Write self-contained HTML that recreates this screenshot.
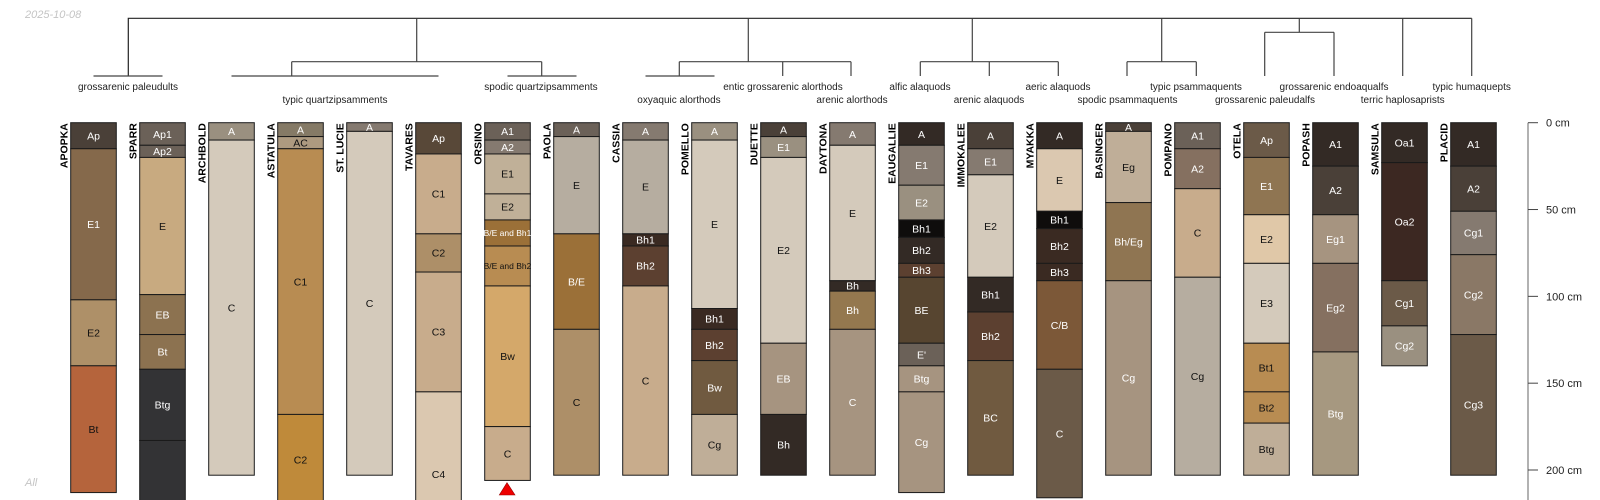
<!DOCTYPE html>
<html><head><meta charset="utf-8">
<style>
html,body{margin:0;padding:0;background:#fff;width:1600px;height:500px;overflow:hidden;}
svg{display:block;font-family:"Liberation Sans",sans-serif;overflow:hidden;}
</style></head>
<body>
<svg id="chart" width="1600" height="500" viewBox="0 0 1600 500" xmlns="http://www.w3.org/2000/svg">
<text x="25" y="18" font-size="11" font-style="italic" fill="#c4c4c4">2025-10-08</text>
<text x="25" y="486" font-size="11" font-style="italic" fill="#c4c4c4">All</text>
<g id="dendro" stroke="#444" stroke-width="1.2" fill="none">
<polyline points="128.3,76 128.3,18.3 1471.7,18.3" stroke="#222"/>
<line x1="93.5" y1="76" x2="162.5" y2="76"/>
<line x1="416.7" y1="18.3" x2="416.7" y2="61.7"/>
<line x1="291.7" y1="61.7" x2="541.7" y2="61.7"/>
<line x1="291.7" y1="61.7" x2="291.7" y2="76"/>
<line x1="231.5" y1="76" x2="438.5" y2="76"/>
<line x1="541.7" y1="61.7" x2="541.7" y2="76"/>
<line x1="507.5" y1="76" x2="576.5" y2="76"/>
<line x1="748.3" y1="18.3" x2="748.3" y2="61.7"/>
<line x1="679.3" y1="61.7" x2="851" y2="61.7"/>
<line x1="679.3" y1="61.7" x2="679.3" y2="76"/>
<line x1="645.5" y1="76" x2="714.5" y2="76"/>
<line x1="782.7" y1="61.7" x2="782.7" y2="76"/>
<line x1="851" y1="61.7" x2="851" y2="76"/>
<line x1="972.3" y1="18.3" x2="972.3" y2="61.7"/>
<line x1="920.3" y1="61.7" x2="1058.3" y2="61.7"/>
<line x1="920.3" y1="61.7" x2="920.3" y2="76"/>
<line x1="989.3" y1="61.7" x2="989.3" y2="76"/>
<line x1="1058.3" y1="61.7" x2="1058.3" y2="76"/>
<line x1="1161.7" y1="18.3" x2="1161.7" y2="61.7"/>
<line x1="1127" y1="61.7" x2="1196.3" y2="61.7"/>
<line x1="1127" y1="61.7" x2="1127" y2="76"/>
<line x1="1196.3" y1="61.7" x2="1196.3" y2="76"/>
<line x1="1299.3" y1="18.3" x2="1299.3" y2="32.3"/>
<line x1="1264.7" y1="32.3" x2="1334" y2="32.3"/>
<line x1="1264.7" y1="32.3" x2="1264.7" y2="76"/>
<line x1="1334" y1="32.3" x2="1334" y2="76"/>
<line x1="1402.7" y1="18.3" x2="1402.7" y2="76"/>
<line x1="1471.7" y1="18.3" x2="1471.7" y2="76"/>
</g>
<g id="taxa" font-size="10" fill="#222" text-anchor="middle">
<text x="128" y="90">grossarenic paleudults</text>
<text x="335" y="103">typic quartzipsamments</text>
<text x="541" y="90">spodic quartzipsamments</text>
<text x="679" y="103">oxyaquic alorthods</text>
<text x="783" y="90">entic grossarenic alorthods</text>
<text x="852" y="103">arenic alorthods</text>
<text x="920" y="90">alfic alaquods</text>
<text x="989" y="103">arenic alaquods</text>
<text x="1058" y="90">aeric alaquods</text>
<text x="1127.5" y="103">spodic psammaquents</text>
<text x="1196" y="90">typic psammaquents</text>
<text x="1265" y="103">grossarenic paleudalfs</text>
<text x="1334" y="90">grossarenic endoaqualfs</text>
<text x="1402.7" y="103">terric haplosaprists</text>
<text x="1471.7" y="90">typic humaquepts</text>
</g>
<g id="profiles"></g>
<g id="axis"></g>
<polygon points="507,482.7 499.3,495 515,495" fill="#ee0000" stroke="#900" stroke-width="0.6"/>
</svg>
<script>
const profileNames = ["APOPKA","SPARR","ARCHBOLD","ASTATULA","ST. LUCIE","TAVARES","ORSINO","PAOLA","CASSIA","POMELLO","DUETTE","DAYTONA","EAUGALLIE","IMMOKALEE","MYAKKA","BASINGER","POMPANO","OTELA","POPASH","SAMSULA","PLACID"];
const horizonNames = [
["Ap","E1","E2","Bt"],
["Ap1","Ap2","E","EB","Bt","Btg","BC"],
["A","C"],
["A","AC","C1","C2"],
["A","C"],
["Ap","C1","C2","C3","C4"],
["A1","A2","E1","E2","B/E and Bh1","B/E and Bh2","Bw","C"],
["A","E","B/E","C"],
["A","E","Bh1","Bh2","C"],
["A","E","Bh1","Bh2","Bw","Cg"],
["A","E1","E2","EB","Bh"],
["A","E","Bh","Bh","C"],
["A","E1","E2","Bh1","Bh2","Bh3","BE","E'","Btg","Cg"],
["A","E1","E2","Bh1","Bh2","BC"],
["A","E","Bh1","Bh2","Bh3","C/B","C"],
["A","Eg","Bh/Eg","Cg"],
["A1","A2","C","Cg"],
["Ap","E1","E2","E3","Bt1","Bt2","Btg"],
["A1","A2","Eg1","Eg2","Btg"],
["Oa1","Oa2","Cg1","Cg2"],
["A1","A2","Cg1","Cg2","Cg3"]];
const horizonBottoms = [
[15,102,140,213],
[13,20,99,122,142,183,250],
[10,203],
[8,15,168,220],
[5,203],
[18,64,86,155,250],
[10,18,41,56,71,94,175,206],
[8,64,119,203],
[10,64,71,94,203],
[10,107,119,137,168,203],
[8,20,127,168,203],
[13,91,97,119,203],
[13,36,56,66,81,89,127,140,155,213],
[15,30,89,109,137,203],
[15,51,61,81,91,142,216],
[5,46,91,203],
[15,38,89,203],
[20,53,81,127,155,173,203],
[25,53,81,132,203],
[23,91,117,140],
[25,51,76,122,203]];
const horizonColors = [
["#4a4038","#85694b","#ae9068","#b5643c"],
["#6b6158","#6b6158","#c8aa80","#8c7250","#8c7250","#333335","#333335"],
["#9a9080","#d4cabb"],
["#857a66","#ad9a80","#b88c52","#bf8a3a"],
["#857a70","#d4cabb"],
["#584838","#c8ac8c","#ad8f68","#c8ac8c","#dbc8b0"],
["#6b6158","#857a70","#c0b098","#c0b098","#9b7038","#b88c52","#d4a86a","#c8ac8c"],
["#6b6158","#b6ada0","#9b7038","#ad8f68"],
["#857a70","#b6ada0","#3a2a22","#5c4030","#c8ac8c"],
["#9a9080","#d4cabb","#3a2a22","#5c4030","#705a40","#bfae98"],
["#4a4038","#9a9080","#d4cabb","#a69480","#332a25"],
["#857a70","#d4cabb","#332a25","#94784f","#a69480"],
["#332a25","#857a70","#9a9080","#0f0d0c","#332a25","#5c4030","#574530","#6b6158","#a69480","#a69480"],
["#4a4038","#857a70","#d4cabb","#332a25","#5c4030","#705a40"],
["#332a25","#dbc8b0","#0f0d0c","#3a2a22","#3a2a22","#7c5838","#6b5a48"],
["#4a4038","#bfae98","#8f7552","#a69480"],
["#6b6158","#857060","#c8ac8c","#b6ada0"],
["#6b5a48","#8f7552","#e0c8a8","#d4cabb","#b88c52","#b88c52","#bfae98"],
["#332a25","#4a4038","#a69480","#857060","#a69880"],
["#332a25","#3c2822","#6b5a48","#9a9080"],
["#332a25","#4a4038","#857a70","#8a7866","#6b5a48"]];
const labelInk = [
"wwkk","wwkwwww","wk","wkkk","wk","wkkkk","wwkkwkkk","wkwk","wkwwk","wkwwwk","wwkww","wkwww",
"wwwwwwwwww","wwkwww","wkwwwww","wkww","wwkk","wwkkkkk","wwwww","wwww","wwwww"];
const axisTicks = [0,50,100,150,200];

const NS = "http://www.w3.org/2000/svg";
const Y0 = 122.7, PXCM = 1.7365, YMAX = 501;
function yScale(d){ return Y0 + d*PXCM; }
function xScale(i){ return 70.7 + i*69; }
const PW = 45.6;
function mk(tag, attrs){ const e=document.createElementNS(NS,tag); for(const k in attrs) e.setAttribute(k, attrs[k]); return e; }
const gP = document.getElementById("profiles");
profileNames.forEach((pn, i) => {
  const g = mk("g", {});
  
  
  const x = xScale(i);
  let top = 0;
  horizonBottoms[i].forEach((bot, j) => {
    const y1 = yScale(top), y2full = yScale(bot);
    const y2 = Math.min(y2full, YMAX);
    const r = mk("rect", {x:x, y:y1, width:PW, height:Math.max(0, y2-y1), fill:horizonColors[i][j], stroke:"#1a1a1a", "stroke-width":1});
    
    
    g.appendChild(r);
    const nm = horizonNames[i][j];
    const fs = nm.length > 5 ? 8.5 : 10.5;
    const ty = (y1+y2full)/2 + fs*0.36;
    if (ty < 500) {
      const t = mk("text", {x:x+PW/2, y:ty, "font-size":fs, "text-anchor":"middle", fill: labelInk[i][j]==='w' ? "#ffffff" : "#111111"});
      t.textContent = nm;
      
      
      g.appendChild(t);
    }
    top = bot;
  });
  const lab = mk("text", {transform:"translate(" + (x-3.2) + "," + (Y0+0.5) + ") rotate(-90)", "font-size":10.5, "font-weight":"bold", "text-anchor":"end", fill:"#000"});
  lab.textContent = pn;
  
  
  g.appendChild(lab);
  gP.appendChild(g);
});
const gA = document.getElementById("axis");
const axl = mk("line", {x1:1528, y1:Y0, x2:1528, y2:500, stroke:"#888", "stroke-width":1.3});


gA.appendChild(axl);
axisTicks.forEach(d => {
  const y = yScale(d);
  const tl = mk("line", {x1:1528, y1:y, x2:1538, y2:y, stroke:"#444", "stroke-width":1});
  
  
  gA.appendChild(tl);
  const tt = mk("text", {x:1546, y:y+4, "font-size":11, fill:"#222"});
  tt.textContent = d + " cm";
  
  
  gA.appendChild(tt);
});
</script>
</body></html>
